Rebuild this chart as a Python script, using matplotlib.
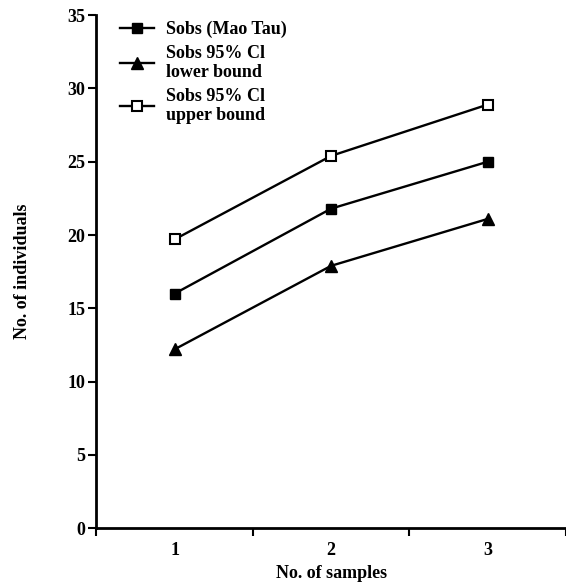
import numpy as np
import matplotlib.pyplot as plt

samples = [1, 2, 3]
sobs = [16.0, 21.8, 25.0]
lower = [12.2, 17.9, 21.1]
upper = [19.7, 25.4, 28.9]
labels = ["Sobs (Mao Tau)", "Sobs 95% Cl\nlower bound", "Sobs 95% Cl\nupper bound"]

plt.rcParams['font.family'] = 'Liberation Serif'
plt.rcParams['font.weight'] = 'bold'
plt.rcParams['axes.labelweight'] = 'bold'

fig = plt.figure(figsize=(5.66, 5.83), dpi=100)
ax = fig.add_axes([0.170, 0.094, 0.83, 0.880])

ax.plot(samples, sobs, color='black', lw=1.7, marker='s', ms=7.5, mfc='black', label=labels[0])
ax.plot(samples, lower, color='black', lw=1.7, marker='^', ms=8.5, mfc='black', label=labels[1])
ax.plot(samples, upper, color='black', lw=1.7, marker='s', ms=7.5, mfc='white', mew=1.5, label=labels[2])

ax.set_xlim(0.5, 3.5)
ax.set_ylim(0, 35)
ax.set_yticks(np.arange(0, 36, 5))
ax.set_xticks([0.5, 1.5, 2.5, 3.5])
ax.set_xticklabels([])
ax.set_xticks(samples, minor=True)
ax.set_xticklabels([str(s) for s in samples], minor=True, fontsize=13, fontweight='bold')
ax.tick_params(axis='x', which='minor', length=0, pad=10)
ax.tick_params(axis='x', which='major', length=6, width=1.5)
ax.tick_params(axis='y', length=6, width=1.5, labelsize=13, pad=2)

for s in ['top', 'right']:
    ax.spines[s].set_visible(False)
for s in ['left', 'bottom']:
    ax.spines[s].set_linewidth(2)

ax.set_xlabel('No. of samples', fontsize=13, labelpad=4)
ax.set_ylabel('No. of individuals', fontsize=13, labelpad=26)

leg = ax.legend(loc='upper left', bbox_to_anchor=(0.015, 1.02), frameon=False,
                prop={'size': 13, 'weight': 'bold'}, handlelength=1.9,
                handletextpad=0.7, labelspacing=0.35)

fig.savefig('out.png', dpi=100)
